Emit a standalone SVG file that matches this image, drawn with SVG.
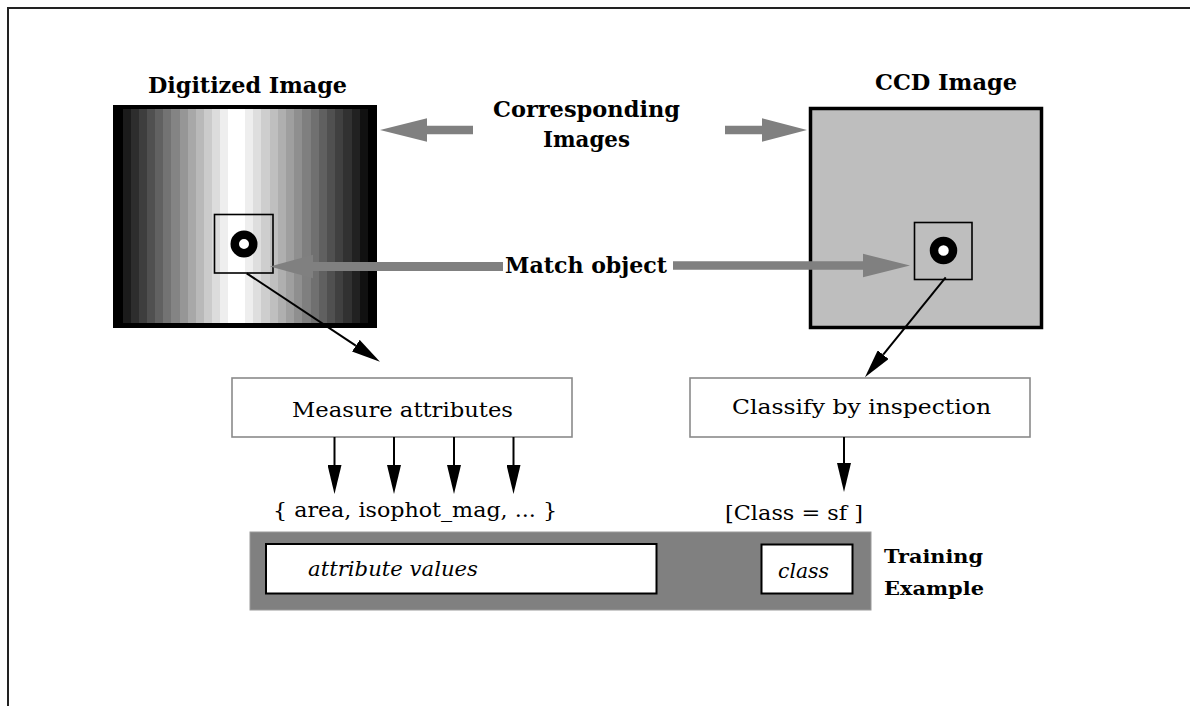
<svg xmlns="http://www.w3.org/2000/svg" width="1190" height="706" viewBox="0 0 1190 706">
<defs>
<style>
.t{font-family:"DejaVu Serif","Liberation Serif",serif;fill:#000}
.b{font-weight:bold;font-size:23px}
.r{font-size:21px}
.i{font-size:21px;font-style:italic}
.fat{fill:#808080}
.thin{stroke:#000;stroke-width:2;fill:none}
.st{shape-rendering:crispEdges}
</style>
<marker id="ah" markerWidth="29" markerHeight="14" refX="0" refY="7" orient="auto" markerUnits="userSpaceOnUse">
<path d="M0,0 L29,7 L0,14 z" fill="#000"/>
</marker>
</defs>
<rect width="1190" height="706" fill="#fff"/>
<path d="M8,706 V8 H1190" fill="none" stroke="#222" stroke-width="2"/>

<g id="digitized-image">
<text class="t b" x="148" y="93" textLength="199" lengthAdjust="spacingAndGlyphs">Digitized Image</text>
<rect x="113" y="105" width="264" height="223" fill="#000"/>
<g class="st">
<rect x="123" y="109" width="8" height="214" fill="#1b1b1b"/>
<rect x="131" y="109" width="8" height="214" fill="#2d2d2d"/>
<rect x="139" y="109" width="8" height="214" fill="#3e3e3e"/>
<rect x="147" y="109" width="8" height="214" fill="#505050"/>
<rect x="155" y="109" width="8" height="214" fill="#616161"/>
<rect x="163" y="109" width="8" height="214" fill="#737373"/>
<rect x="171" y="109" width="9" height="214" fill="#848484"/>
<rect x="180" y="109" width="8" height="214" fill="#969696"/>
<rect x="188" y="109" width="8" height="214" fill="#a8a8a8"/>
<rect x="196" y="109" width="8" height="214" fill="#b9b9b9"/>
<rect x="204" y="109" width="8" height="214" fill="#cbcbcb"/>
<rect x="212" y="109" width="8" height="214" fill="#dcdcdc"/>
<rect x="220" y="109" width="8" height="214" fill="#eeeeee"/>
<rect x="228" y="109" width="17" height="214" fill="#ffffff"/>
<rect x="245" y="109" width="8" height="214" fill="#eeeeee"/>
<rect x="253" y="109" width="8" height="214" fill="#dedede"/>
<rect x="261" y="109" width="9" height="214" fill="#cecece"/>
<rect x="270" y="109" width="8" height="214" fill="#bfbfbf"/>
<rect x="278" y="109" width="8" height="214" fill="#afafaf"/>
<rect x="286" y="109" width="8" height="214" fill="#9f9f9f"/>
<rect x="294" y="109" width="8" height="214" fill="#8f8f8f"/>
<rect x="302" y="109" width="9" height="214" fill="#7f7f7f"/>
<rect x="311" y="109" width="8" height="214" fill="#707070"/>
<rect x="319" y="109" width="8" height="214" fill="#606060"/>
<rect x="327" y="109" width="8" height="214" fill="#505050"/>
<rect x="335" y="109" width="8" height="214" fill="#404040"/>
<rect x="343" y="109" width="9" height="214" fill="#313131"/>
<rect x="352" y="109" width="8" height="214" fill="#212121"/>
<rect x="360" y="109" width="8" height="214" fill="#111111"/>
</g>
<rect x="214.5" y="214.5" width="58.5" height="58.5" fill="none" stroke="#000" stroke-width="1.6"/>
<circle cx="244" cy="244" r="9.25" fill="#fff" stroke="#000" stroke-width="8.5"/>
</g>

<g id="ccd-image">
<text class="t b" x="875" y="90" textLength="142" lengthAdjust="spacingAndGlyphs">CCD Image</text>
<rect x="810.5" y="108.5" width="231" height="219" fill="#bebebe" stroke="#000" stroke-width="3.5"/>
<rect x="914.5" y="222.5" width="57.5" height="57" fill="none" stroke="#000" stroke-width="1.6"/>
<circle cx="943.5" cy="250.5" r="9.5" fill="#fff" stroke="#000" stroke-width="8.5"/>
</g>

<g id="corresponding-label">
<text class="t b" x="493" y="117" textLength="187" lengthAdjust="spacingAndGlyphs">Corresponding</text>
<text class="t b" x="543" y="147" textLength="87" lengthAdjust="spacingAndGlyphs">Images</text>
</g>

<g id="match-label">
<text class="t b" x="505" y="273" textLength="162" lengthAdjust="spacingAndGlyphs">Match object</text>
</g>

<g id="measure-attributes">
<rect x="232" y="378" width="340" height="59" fill="#fff" stroke="#8a8a8a" stroke-width="1.6"/>
<text class="t r" x="292" y="417" textLength="221" lengthAdjust="spacingAndGlyphs">Measure  attributes</text>
</g>

<g id="classify">
<rect x="690" y="378" width="340" height="59" fill="#fff" stroke="#8a8a8a" stroke-width="1.6"/>
<text class="t r" x="732" y="414" textLength="259" lengthAdjust="spacingAndGlyphs">Classify by inspection</text>
</g>

<g id="attribute-set">
<text class="t r" x="273" y="517" textLength="284" lengthAdjust="spacingAndGlyphs">{ area, isophot_mag, ... }</text>
</g>

<g id="class-value">
<text class="t r" x="725" y="520" textLength="138" lengthAdjust="spacingAndGlyphs">[Class  = sf ]</text>
</g>

<g id="training-example">
<rect x="250" y="532" width="621" height="78" fill="#808080" stroke="#9a9a9a" stroke-width="1"/>
<rect x="266" y="544" width="390.5" height="49.5" fill="#fff" stroke="#000" stroke-width="2"/>
<text class="t i" x="308" y="576" textLength="170" lengthAdjust="spacingAndGlyphs">attribute values</text>
<rect x="761.5" y="544.5" width="91" height="49" fill="#fff" stroke="#000" stroke-width="2"/>
<text class="t i" x="778" y="578" textLength="51" lengthAdjust="spacingAndGlyphs">class</text>
<text class="t" style="font-weight:bold;font-size:19px" x="884" y="563" textLength="99" lengthAdjust="spacingAndGlyphs">Training</text>
<text class="t" style="font-weight:bold;font-size:19px" x="884" y="595" textLength="100" lengthAdjust="spacingAndGlyphs">Example</text>
</g>

<g id="connectors">
<polygon class="fat" points="380,130 427,118.3 427,125.7 473,125.7 473,134.3 427,134.3 427,141.7"/>
<polygon class="fat" points="807,130 762,118.3 762,125.7 725,125.7 725,134.3 762,134.3 762,141.7"/>
<polygon class="fat" points="270,266.5 313,254.8 313,262 503,262 503,271 313,271 313,278.2"/>
<polygon class="fat" points="910,265.5 863,253.8 863,261.2 673,261.2 673,269.8 863,269.8 863,277.2"/>
<line class="thin" x1="246.7" y1="273.3" x2="355.8" y2="345.7" marker-end="url(#ah)"/>
<line class="thin" x1="945.7" y1="277.3" x2="883.2" y2="354.7" marker-end="url(#ah)"/>
<line class="thin" x1="334.5" y1="437" x2="334.5" y2="465" marker-end="url(#ah)"/>
<line class="thin" x1="394" y1="437" x2="394" y2="465" marker-end="url(#ah)"/>
<line class="thin" x1="454" y1="437" x2="454" y2="465" marker-end="url(#ah)"/>
<line class="thin" x1="513.5" y1="437" x2="513.5" y2="465" marker-end="url(#ah)"/>
<line class="thin" x1="844" y1="437" x2="844" y2="463" marker-end="url(#ah)"/>
</g>
</svg>
